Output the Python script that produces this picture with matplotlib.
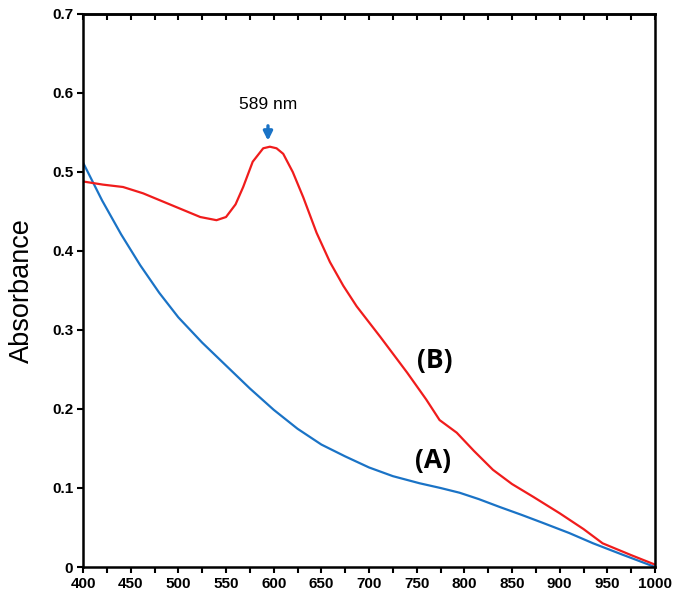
import numpy as np
import matplotlib.pyplot as plt

# wavelength (nm) and absorbance
nmA = [400, 420, 440, 460, 480, 500, 525, 550, 575, 600, 625, 650, 675, 700,
       725, 753, 775, 795, 815, 837, 860, 882, 910, 935, 965, 1000]
absA = [0.512, 0.464, 0.421, 0.382, 0.347, 0.316, 0.284, 0.255, 0.226, 0.199,
        0.175, 0.155, 0.140, 0.126, 0.115, 0.106, 0.100, 0.094, 0.086, 0.076,
        0.066, 0.056, 0.043, 0.030, 0.016, 0.0]

nmB = [400, 421, 442, 463, 487, 505, 523, 540, 550, 560, 568, 578, 589, 596,
       603, 610, 620, 631, 645, 659, 673, 687, 712, 740, 760, 774, 792, 810,
       830, 850, 872, 900, 925, 945, 975, 1000]
absB = [0.488, 0.484, 0.481, 0.473, 0.461, 0.452, 0.443, 0.439, 0.443, 0.459,
        0.481, 0.513, 0.530, 0.532, 0.530, 0.523, 0.500, 0.468, 0.423, 0.386,
        0.356, 0.330, 0.291, 0.246, 0.212, 0.186, 0.170, 0.147, 0.123, 0.105,
        0.089, 0.068, 0.048, 0.030, 0.015, 0.003]

xticks = np.arange(400, 1001, 50)
yticks = np.arange(0, 0.71, 0.1)

fig = plt.figure(figsize=(6.76, 6.03), dpi=100)
ax = fig.add_axes([0.1228, 0.0597, 0.8462, 0.9171])

ax.plot(nmA, absA, color='#1a73c6', lw=1.6)
ax.plot(nmB, absB, color='#f01c1c', lw=1.6)

ax.set_xlim(400, 1000)
ax.set_ylim(0, 0.7)
ax.set_xticks(xticks)
ax.set_xticks(np.arange(425, 1000, 50), minor=True)
ax.set_yticks(yticks)
ax.set_xticklabels([str(v) for v in xticks])
ax.set_yticklabels(['0'] + ['%.1f' % v for v in yticks[1:]])
for lab in ax.get_xticklabels() + ax.get_yticklabels():
    lab.set_fontfamily('Liberation Sans')
    lab.set_fontweight('bold')
    lab.set_fontsize(11)
ax.tick_params(which='both', direction='out', length=4, width=1.5, pad=3)

top = ax.secondary_xaxis('top')
top.set_xticks(np.arange(400, 1001, 25))
top.set_xticklabels([])
top.tick_params(direction='in', length=4, width=1.5)
top.spines['top'].set_linewidth(1.8)

for s in ax.spines.values():
    s.set_linewidth(1.8)

ax.set_ylabel('Absorbance', fontfamily='Liberation Sans', fontsize=19.5,
              labelpad=12)

ax.annotate('', xy=(594, 0.536), xytext=(594, 0.562),
            arrowprops=dict(arrowstyle='-|>', color='#1a73c6', lw=2.4,
                            mutation_scale=13))
ax.text(594, 0.585, '589 nm', ha='center', va='center',
        fontfamily='Liberation Sans', fontsize=12.5)

ax.text(769, 0.262, '(B)', ha='center', va='center', fontfamily='Open Sans',
        fontweight='bold', fontsize=19)
ax.text(767, 0.135, '(A)', ha='center', va='center', fontfamily='Open Sans',
        fontweight='bold', fontsize=19)

fig.savefig('out.png', dpi=100)
